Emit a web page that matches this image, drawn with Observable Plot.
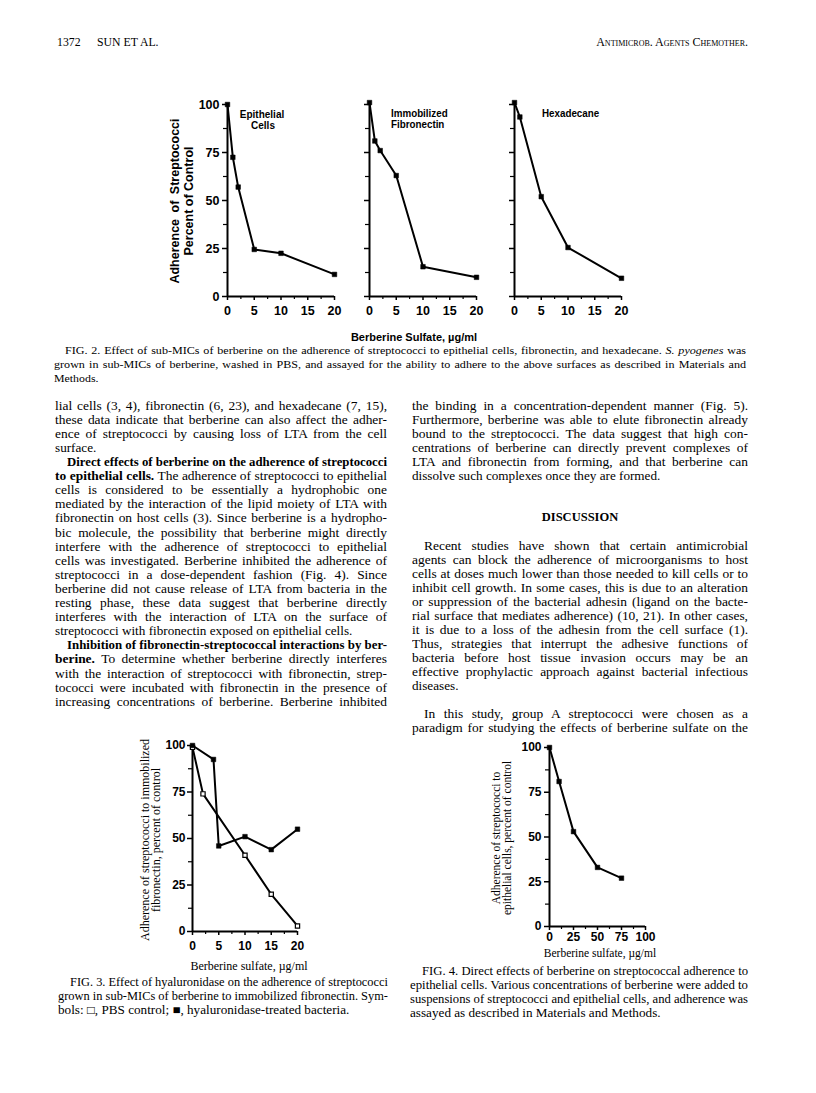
<!DOCTYPE html>
<html>
<head>
<meta charset="utf-8">
<script src="https://cdn.jsdelivr.net/npm/d3@7"></script>
<script src="https://cdn.jsdelivr.net/npm/@observablehq/plot@0.6"></script>
<style>
  html, body { margin: 0; padding: 0; background: #fff; }
  #page { position: relative; width: 816px; height: 1093px; overflow: hidden; background: #fff; color: #000; }
  #page svg { overflow: visible; }
  .abs { position: absolute; }
</style>
</head>
<body>
<div id="page"></div>
<script>
// ---------------- DATA ----------------
// Fig. 2 (sub-MICs of berberine, µg/ml)
const fig2Conc = [0, 1, 2, 5, 10, 20];
const fig2Epithelial = [100, 72.5, 57, 24.5, 22.5, 11.5];
const fig2Fibronectin = [101, 81, 76, 63, 15.5, 10];
const fig2HexConc = [0, 1, 5, 10, 20];
const fig2Hexadecane = [101, 93.5, 52, 25.5, 9.5];
const fig2XTicks = [0, 5, 10, 15, 20];
const fig2YTicks = [0, 25, 50, 75, 100];

// Fig. 3 (hyaluronidase)
const fig3PbsConc = [0, 2, 10, 15, 20];
const fig3Pbs = [99, 74, 41, 20, 3];
const fig3HyaConc = [0, 4, 5, 10, 15, 20];
const fig3Hya = [100, 92.5, 46, 51, 44, 55];
const fig3XTicks = [0, 5, 10, 15, 20];
const fig3YTicks = [0, 25, 50, 75, 100];

// Fig. 4 (direct effect)
const fig4Conc = [0, 10, 25, 50, 75];
const fig4Adh = [100, 81, 53, 33, 27];
const fig4XTicks = [0, 25, 50, 75, 100];
const fig4YTicks = [0, 25, 50, 75, 100];

// ---------------- TEXT ----------------
const leftColumn = [
  ["lial cells (3, 4), fibronectin (6, 23), and hexadecane (7, 15),", 1, 0],
  ["these data indicate that berberine can also affect the adher-", 1, 0],
  ["ence of streptococci by causing loss of LTA from the cell", 1, 0],
  ["surface.", 0, 0],
  ["<b>Direct effects of berberine on the adherence of streptococci</b>", 1, 1],
  ["<b>to epithelial cells.</b> The adherence of streptococci to epithelial", 1, 0],
  ["cells is considered to be essentially a hydrophobic one", 1, 0],
  ["mediated by the interaction of the lipid moiety of LTA with", 1, 0],
  ["fibronectin on host cells (3). Since berberine is a hydropho-", 1, 0],
  ["bic molecule, the possibility that berberine might directly", 1, 0],
  ["interfere with the adherence of streptococci to epithelial", 1, 0],
  ["cells was investigated. Berberine inhibited the adherence of", 1, 0],
  ["streptococci in a dose-dependent fashion (Fig. 4). Since", 1, 0],
  ["berberine did not cause release of LTA from bacteria in the", 1, 0],
  ["resting phase, these data suggest that berberine directly", 1, 0],
  ["interferes with the interaction of LTA on the surface of", 1, 0],
  ["streptococci with fibronectin exposed on epithelial cells.", 0, 0],
  ["<b>Inhibition of fibronectin-streptococcal interactions by ber-</b>", 1, 1],
  ["<b>berine.</b> To determine whether berberine directly interferes", 1, 0],
  ["with the interaction of streptococci with fibronectin, strep-", 1, 0],
  ["tococci were incubated with fibronectin in the presence of", 1, 0],
  ["increasing concentrations of berberine. Berberine inhibited", 1, 0]
];
const rightColumnA = [
  ["the binding in a concentration-dependent manner (Fig. 5).", 1, 0],
  ["Furthermore, berberine was able to elute fibronectin already", 1, 0],
  ["bound to the streptococci. The data suggest that high con-", 1, 0],
  ["centrations of berberine can directly prevent complexes of", 1, 0],
  ["LTA and fibronectin from forming, and that berberine can", 1, 0],
  ["dissolve such complexes once they are formed.", 0, 0]
];
const rightColumnB = [
  ["Recent studies have shown that certain antimicrobial", 1, 1],
  ["agents can block the adherence of microorganisms to host", 1, 0],
  ["cells at doses much lower than those needed to kill cells or to", 1, 0],
  ["inhibit cell growth. In some cases, this is due to an alteration", 1, 0],
  ["or suppression of the bacterial adhesin (ligand on the bacte-", 1, 0],
  ["rial surface that mediates adherence) (10, 21). In other cases,", 1, 0],
  ["it is due to a loss of the adhesin from the cell surface (1).", 1, 0],
  ["Thus, strategies that interrupt the adhesive functions of", 1, 0],
  ["bacteria before host tissue invasion occurs may be an", 1, 0],
  ["effective prophylactic approach against bacterial infectious", 1, 0],
  ["diseases.", 0, 0]
];
const rightColumnC = [
  ["In this study, group A streptococci were chosen as a", 1, 1],
  ["paradigm for studying the effects of berberine sulfate on the", 1, 0]
];
const fig2Caption = [
  ["FIG. 2. Effect of sub-MICs of berberine on the adherence of streptococci to epithelial cells, fibronectin, and hexadecane. <i>S. pyogenes</i> was", 1, 1],
  ["grown in sub-MICs of berberine, washed in PBS, and assayed for the ability to adhere to the above surfaces as described in Materials and", 1, 0],
  ["Methods.", 0, 0]
];
const fig3Caption = [
  ["FIG. 3. Effect of hyaluronidase on the adherence of streptococci", 1, 1],
  ["grown in sub-MICs of berberine to immobilized fibronectin. Sym-", 1, 0],
  ["bols: □, PBS control; ■, hyaluronidase-treated bacteria.", 0, 0]
];
const fig4Caption = [
  ["FIG. 4. Direct effects of berberine on streptococcal adherence to", 1, 1],
  ["epithelial cells. Various concentrations of berberine were added to", 1, 0],
  ["suspensions of streptococci and epithelial cells, and adherence was", 1, 0],
  ["assayed as described in Materials and Methods.", 0, 0]
];

// ---------------- HELPERS ----------------
const page = document.getElementById("page");
const SERIF = "'Liberation Serif', 'Times New Roman', serif";
const SANS = "'Liberation Sans', Arial, sans-serif";

function textLine(html, x, y, width, o = {}) {
  const fs = o.fs || 12, family = o.family || SERIF;
  const indent = o.indent || 0;
  const maxScale = o.maxScale || 1;
  const d = document.createElement("div");
  d.className = "abs";
  d.style.cssText += `left:${x + indent}px;top:${y - 0.61 * fs}px;font-family:${family};font-size:${fs}px;line-height:${fs}px;white-space:nowrap;font-weight:${o.weight || "normal"};`;
  if (o.smallcaps) d.style.fontVariant = "small-caps";
  d.innerHTML = html;
  page.appendChild(d);
  const avail = width - indent;
  const w = d.getBoundingClientRect().width;
  const spaces = (d.textContent.match(/ /g) || []).length;
  if (o.align === "right") {
    d.style.left = (x + width - w) + "px";
    return d;
  }
  if (o.align === "center") {
    d.style.left = (x + (width - w) / 2) + "px";
    return d;
  }
  let s = o.justify ? Math.min(avail / w, maxScale) : Math.min(maxScale * 0.98, maxScale);
  if (w * s > avail) s = avail / w;
  d.style.transformOrigin = "left center";
  d.style.transform = `scaleX(${s})`;
  if (o.justify && spaces && w * s < avail) {
    d.style.wordSpacing = `${(avail - w * s) / spaces / s}px`;
  }
  return d;
}
function block(lines, x, y0, width, lh, o = {}) {
  lines.forEach(([html, just, ind], i) => {
    textLine(html, x, y0 + i * lh, width, {...o, justify: !!just, indent: ind ? (o.indentSize || 12) : 0});
  });
}
function rotatedLabel(html, cx, cy, o = {}) {
  const d = document.createElement("div");
  d.className = "abs";
  d.style.cssText += `left:${cx}px;top:${cy}px;font-family:${o.family || SERIF};font-size:${o.fs || 12}px;line-height:${o.fs || 12}px;white-space:nowrap;font-weight:${o.weight || "normal"};transform:translate(-50%,-50%) rotate(-90deg);word-spacing:${o.ws || 0}px;`;
  d.innerHTML = html;
  page.appendChild(d);
}
function centered(html, cx, cy, o = {}) {
  const d = document.createElement("div");
  d.className = "abs";
  d.style.cssText += `left:${cx}px;top:${cy}px;font-family:${o.family || SANS};font-size:${o.fs || 12}px;line-height:${o.fs || 12}px;white-space:nowrap;font-weight:${o.weight || "bold"};transform:translate(-50%,-50%);text-align:center;`;
  d.innerHTML = html;
  page.appendChild(d);
}
function placePlot(svg, left, top) {
  const w = document.createElement("div");
  w.className = "abs";
  w.style.left = left + "px";
  w.style.top = top + "px";
  w.appendChild(svg);
  page.appendChild(w);
}
const toRows = (xs, ys) => xs.map((x, i) => ({x, y: ys[i]}));
const minorBetween = (ticks) => ticks.slice(1).map((t, i) => (t + ticks[i]) / 2);

function chart({series, xDomain, xTicks, yTicks, pw, ph, showY, fs = 12, xPad = 4, yPad = 3}) {
  const ML = 40, MR = 12, MT = 10, MB = 30;
  const marks = [
    Plot.ruleX([xDomain[0]], {strokeWidth: 2}),
    Plot.ruleY([0], {strokeWidth: 2}),
    Plot.axisY(yTicks, {tickSize: 5, tickPadding: yPad, tickFormat: showY ? (d => d) : (() => ""), label: null, strokeWidth: 1.5}),
    Plot.axisY(minorBetween(yTicks), {tickSize: 4, tickFormat: () => "", label: null, strokeWidth: 1.2}),
    Plot.axisX(xTicks, {tickSize: 4, tickPadding: xPad, label: null, strokeWidth: 1.5}),
    Plot.axisX(minorBetween(xTicks), {tickSize: 3, tickFormat: () => "", label: null, strokeWidth: 1.2})
  ];
  for (const s of series) {
    marks.push(Plot.line(s.rows, {x: "x", y: "y", strokeWidth: 2, stroke: "black"}));
  }
  for (const s of series) {
    marks.push(Plot.dot(s.rows, {x: "x", y: "y", symbol: "square", r: s.open ? 2.4 : 2.6, fill: s.open ? "white" : "black", stroke: "black", strokeWidth: s.open ? 1.2 : 0.5}));
  }
  const svg = Plot.plot({
    width: ML + pw + MR, height: MT + ph + MB,
    marginLeft: ML, marginRight: MR, marginTop: MT, marginBottom: MB,
    x: {domain: xDomain}, y: {domain: [0, 100]},
    style: {fontFamily: SANS, fontWeight: "bold", fontSize: fs + "px", color: "black", background: "transparent", overflow: "visible"},
    marks
  });
  return {svg, ML, MT};
}

// ---------------- HEADER ----------------
textLine("1372", 57, 43, 40, {fs: 12});
textLine("SUN ET AL.", 97, 43, 120, {fs: 12});
textLine("Antimicrob. Agents Chemother.", 500, 43, 248, {fs: 12, smallcaps: true, align: "right"});

// ---------------- FIG 2 ----------------
const fig2Panels = [
  {xs: fig2Conc, ys: fig2Epithelial, x0: 227, showY: true},
  {xs: fig2Conc, ys: fig2Fibronectin, x0: 369, showY: false},
  {xs: fig2HexConc, ys: fig2Hexadecane, x0: 514, showY: false}
];
for (const p of fig2Panels) {
  const c = chart({series: [{rows: toRows(p.xs, p.ys)}], xDomain: [0, 20], xTicks: fig2XTicks, yTicks: fig2YTicks, pw: 107, ph: 192, showY: p.showY, fs: 12.5, xPad: 6, yPad: 3});
  placePlot(c.svg, p.x0 - c.ML, 104 - c.MT);
}
centered("Epithelial", 262, 115, {fs: 10});
centered("Cells", 263, 126, {fs: 10});
textLine("<b>Immobilized</b>", 391, 115, 80, {fs: 10, family: SANS});
textLine("<b>Fibronectin</b>", 391, 126, 80, {fs: 10, family: SANS});
textLine("<b>Hexadecane</b>", 542, 115, 80, {fs: 10, family: SANS});
rotatedLabel("Adherence of Streptococci", 175, 201, {family: SANS, weight: "bold", fs: 12.5, ws: 3});
rotatedLabel("Percent of Control", 189, 201, {family: SANS, weight: "bold", fs: 12.5});
centered("Berberine Sulfate, µg/ml", 414, 337, {fs: 11});

block(fig2Caption, 54, 352, 692, 14, {fs: 11, indentSize: 11, maxScale: 1.1});

// ---------------- BODY ----------------
const bodyOpts = {fs: 12, maxScale: 1.12};
block(leftColumn, 55, 407, 332, 14.1, bodyOpts);
block(rightColumnA, 412, 407, 336, 14.1, bodyOpts);
textLine("<b>DISCUSSION</b>", 412, 519, 336, {fs: 12.5, align: "center"});
block(rightColumnB, 412, 547, 336, 14.0, bodyOpts);
block(rightColumnC, 412, 715, 336, 14.0, bodyOpts);

// ---------------- FIG 3 ----------------
{
  const c = chart({series: [
      {rows: toRows(fig3PbsConc, fig3Pbs), open: true},
      {rows: toRows(fig3HyaConc, fig3Hya)}
    ], xDomain: [0, 20], xTicks: fig3XTicks, yTicks: fig3YTicks, pw: 105, ph: 186, showY: true, fs: 12, xPad: 6, yPad: 2});
  placePlot(c.svg, 192 - c.ML, 745 - c.MT);
  rotatedLabel("Adherence of streptococci to immobilized", 145, 840, {fs: 12});
  rotatedLabel("fibronectin, percent of control", 156, 840, {fs: 12});
  centered("Berberine sulfate, µg/ml", 249, 966, {family: SERIF, weight: "normal", fs: 12});
}
block(fig3Caption, 58, 983, 330, 14, bodyOpts);

// ---------------- FIG 4 ----------------
{
  const c = chart({series: [{rows: toRows(fig4Conc, fig4Adh)}], xDomain: [0, 100], xTicks: fig4XTicks, yTicks: fig4YTicks, pw: 96, ph: 179, showY: true, fs: 12, xPad: 2, yPad: 3});
  placePlot(c.svg, 549 - c.ML, 747 - c.MT);
  rotatedLabel("Adherence of streptococci to", 497, 838, {fs: 11.5});
  rotatedLabel("epithelial cells, percent of control", 508, 838, {fs: 11.5});
  centered("Berberine sulfate, µg/ml", 600, 954, {family: SERIF, weight: "normal", fs: 11.5});
}
block(fig4Caption, 410, 972, 338, 14, bodyOpts);
</script>
</body>
</html>
